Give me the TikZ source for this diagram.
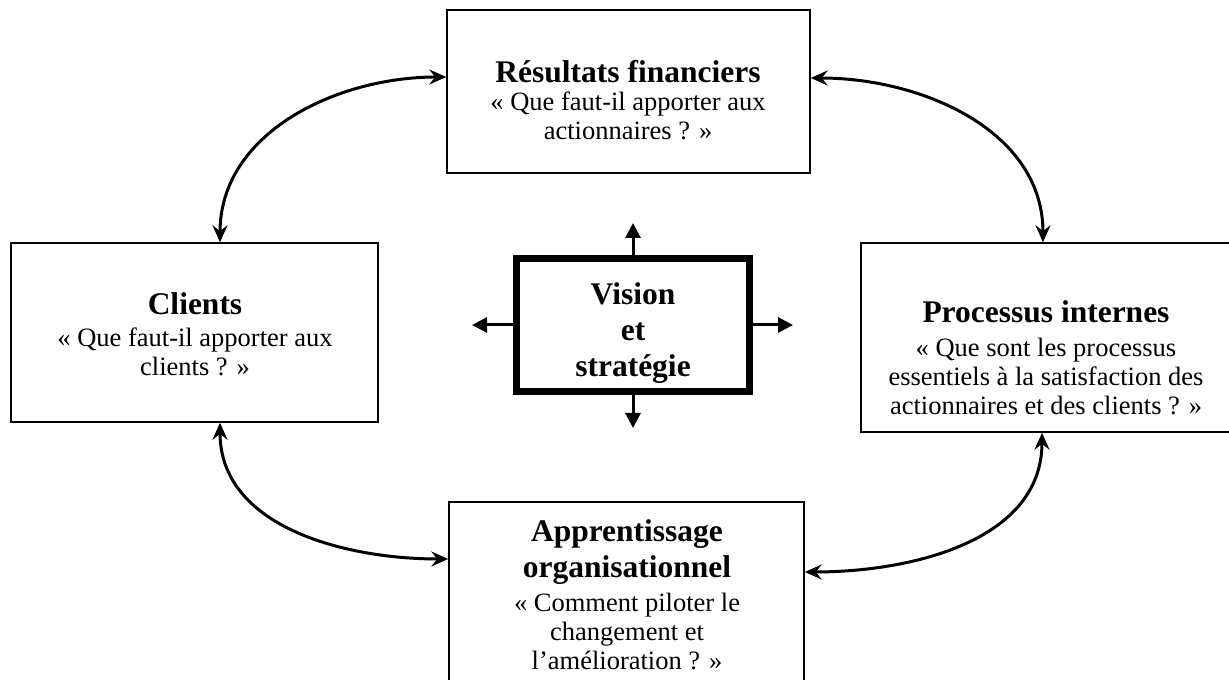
\documentclass[tikz,border=0pt]{standalone}
\usepackage{fontspec}
\setmainfont{Liberation Serif}
\usetikzlibrary{arrows.meta}

\tikzset{
  cadre/.style={draw, line width=1.5pt, inner sep=0pt},
  titre/.style={anchor=base, align=center, font=\fontsize{31.5}{36}\selectfont\bfseries},
  question/.style={anchor=base, align=center, font=\fontsize{26.5}{29}\selectfont},
  lien/.style={line width=3pt, {Stealth[length=17pt,width=15pt,inset=6pt]}-{Stealth[length=17pt,width=15pt,inset=6pt]}},
  pousse/.style={line width=3pt, -{Triangle[length=15pt,width=15pt]}}
}

\begin{document}
\begin{tikzpicture}[x=1pt,y=1pt]
        \useasboundingbox[fill=white] (0,0) rectangle (1229,680);

        % Resultats financiers
        \node[cadre, minimum width=363, minimum height=163] (fin) at (628.5,588.5) {};
        \node[titre] (finT) at (628,597) {Résultats financiers};
        \node[question] (finQ) at (628,540) {« Que faut-il apporter aux\\actionnaires ? »};

        % Clients
        \node[cadre, minimum width=367, minimum height=179] (cli) at (194.5,347.5) {};
        \node[titre] (cliT) at (195,365) {Clients};
        \node[question] (cliQ) at (195,304) {« Que faut-il apporter aux\\clients ? »};

        % Processus internes
        \node[cadre, minimum width=374, minimum height=189] (proc) at (1048,342.5) {};
        \node[titre] (procT) at (1046,357) {Processus internes};
        \node[question] (procQ) at (1046,265) {« Que sont les processus\\essentiels à la satisfaction des\\actionnaires et des clients ? »};

        % Apprentissage organisationnel
        \node[cadre, minimum width=355, minimum height=190] (app) at (626.5,83) {};
        \node[titre] (appT) at (627,102) {Apprentissage\\organisationnel};
        \node[question] (appQ) at (627,10) {« Comment piloter le\\changement et\\l’amélioration ? »};

        % Vision et strategie
        \node[cadre, line width=7pt, minimum width=233, minimum height=133] (vis) at (633,355) {};
        \node[titre] (visT) at (633,303) {Vision\\et\\stratégie};

        \coordinate (visN) at (633,457);
        \coordinate (visS) at (633,252);
        \coordinate (visO) at (472,355);
        \coordinate (visE) at (793,355);
        \draw[pousse] (vis.north) -- (visN);
        \draw[pousse] (vis.south) -- (visS);
        \draw[pousse] (vis.west) -- (visO);
        \draw[pousse] (vis.east) -- (visE);

        % Liens entre les perspectives
        \draw[lien] ([yshift=14.5pt]fin.west) to[out=180,in=90] ([xshift=25.5pt]cli.north);
        \draw[lien] ([yshift=13.5pt]fin.east) to[out=0,in=90] ([xshift=-5pt]proc.north);
        \draw[lien] ([xshift=25.5pt]cli.south) to[out=-90,in=180] ([yshift=38pt]app.west);
        \draw[lien] ([xshift=-6pt]proc.south) to[out=-90,in=0] ([yshift=25pt]app.east);
\end{tikzpicture}
\end{document}
